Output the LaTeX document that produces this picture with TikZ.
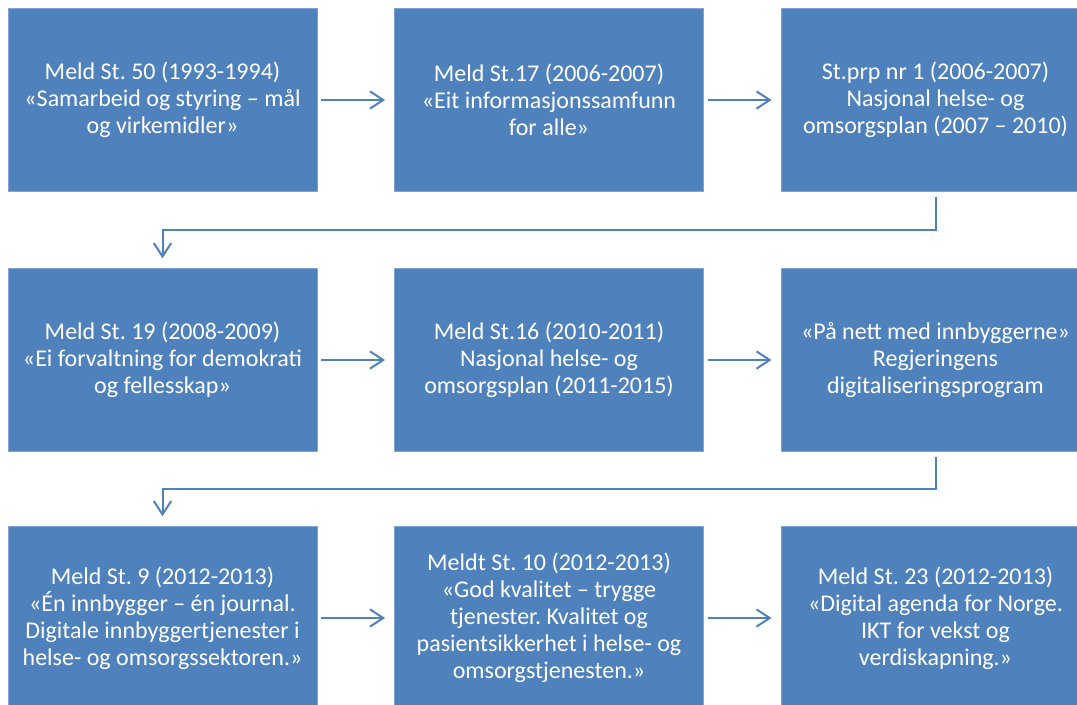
\documentclass[tikz,border=0pt]{standalone}
\usepackage{fontspec}
\setmainfont{Carlito}
\usetikzlibrary{arrows.meta}
\definecolor{boxblue}{HTML}{4F81BD}
\definecolor{boxedge}{HTML}{7DA2D3}
\frenchspacing
\begin{document}
\begin{tikzpicture}[x=0.75pt,y=-0.75pt,
  stagebox/.style={rectangle, fill=boxblue, draw=boxedge, line width=0.6pt,
    minimum width=231.75pt, minimum height=137pt, inner sep=0pt,
    text=white, align=center,
    font=\fontsize{18pt}{20.25pt}\selectfont},
  flow/.style={draw=boxblue, line width=1.5pt,
    -{Straight Barb[length=10pt,width=13pt,line width=1.5pt]}},
  hflow/.style={flow, shorten <=3pt, shorten >=6.75pt},
  vflow/.style={flow, shorten <=3.75pt, shorten >=7.5pt}]
\useasboundingbox (0,0) rectangle (1077,704);
\clip (0,0) rectangle (1077,704);

% first row
\node[stagebox] (b1) at (162.5,100) {Meld St. 50 (1993-1994)\\«Samarbeid og styring – mål\\og virkemidler»};
\node[stagebox] (b2) at (549,100) {Meld St.17 (2006-2007)\\«Eit informasjonssamfunn\\for alle»};
\node[stagebox] (b3) at (935.5,100) {St.prp nr 1 (2006-2007)\\Nasjonal helse- og\\omsorgsplan (2007 – 2010)};

% second row
\node[stagebox] (b4) at (162.5,360) {Meld St. 19 (2008-2009)\\«Ei forvaltning for demokrati\\og fellesskap»};
\node[stagebox] (b5) at (549,360) {Meld St.16 (2010-2011)\\Nasjonal helse- og\\omsorgsplan (2011-2015)};
\node[stagebox] (b6) at (935.5,360) {«På nett med innbyggerne»\\Regjeringens\\digitaliseringsprogram};

% third row
\node[stagebox] (b7) at (162.5,618) {Meld St. 9 (2012-2013)\\«Én innbygger – én journal.\\Digitale innbyggertjenester i\\helse- og omsorgssektoren.»};
\node[stagebox] (b8) at (549,618) {Meldt St. 10 (2012-2013)\\«God kvalitet – trygge\\tjenester. Kvalitet og\\pasientsikkerhet i helse- og\\omsorgstjenesten.»};
\node[stagebox] (b9) at (935.5,618) {Meld St. 23 (2012-2013)\\«Digital agenda for Norge.\\IKT for vekst og\\verdiskapning.»};

% connectors
\draw[hflow] (b1) -- (b2);
\draw[hflow] (b2) -- (b3);
\draw[vflow] (b3.south) -- (b3.south |- 0,230) -| (b4.north);
\draw[hflow] (b4) -- (b5);
\draw[hflow] (b5) -- (b6);
\draw[vflow] (b6.south) -- (b6.south |- 0,489) -| (b7.north);
\draw[hflow] (b7) -- (b8);
\draw[hflow] (b8) -- (b9);
\end{tikzpicture}
\end{document}
